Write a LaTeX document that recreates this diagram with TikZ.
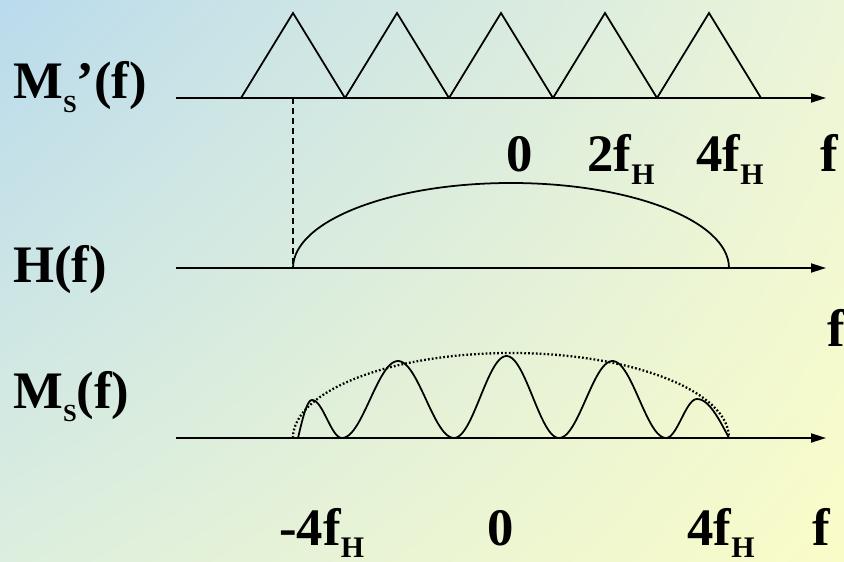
\documentclass[tikz,border=0pt]{standalone}
\usepackage{fontspec}
\setmainfont{Liberation Serif}
\usetikzlibrary{arrows.meta,shadings}
\definecolor{bgblue}{RGB}{186,219,237}
\definecolor{bggreen}{RGB}{236,245,216}
\definecolor{bgmint}{RGB}{220,238,222}
\definecolor{bgyellow}{RGB}{250,252,200}
\newcommand{\subS}{\raisebox{-7.5pt}{\fontsize{14}{14}\selectfont S}}
\newcommand{\subH}{\raisebox{-7pt}{\fontsize{17}{17}\selectfont H}}

\begin{document}
\begin{tikzpicture}[x=0.02cm, y=0.02cm,
    lbl/.style={font=\fontsize{30}{36}\selectfont\bfseries, inner sep=0pt, anchor=base west},
    axis/.style={line width=1pt, -{Triangle[length=0.3cm, width=0.18cm]}},
    curve/.style={line width=1pt}
]
\useasboundingbox (0,0) rectangle (844,561);
\shade[upper left=bgblue, upper right=bggreen, lower left=bgmint, lower right=bgyellow] (0,0) rectangle (844,561);

% sampled spectrum
\coordinate (s0) at (176,463); \coordinate (s1) at (826,463);
\draw[axis] (s0) -- (s1);
\foreach \k in {0,...,4}
    \draw[curve] (241+104*\k,463) -- ++(52,85) -- ++(52,-85);
\node[lbl] (msp) at (13,462) {M\subS'(f)};
\node[lbl] (top0) at (506,389) {0};
\node[lbl] (top2) at (587,389) {2f\subH};
\node[lbl] (top4) at (696,389) {4f\subH};
\node[lbl] (topf) at (820,389) {f};

% filter
\coordinate (h0) at (176,293); \coordinate (h1) at (826,293);
\draw[axis] (h0) -- (h1);
\draw[line width=0.9pt, dash pattern=on 3.4pt off 2.3pt] (293,463) -- (293,293);
\draw[curve] (293,293) arc[start angle=180, end angle=0, x radius=218, y radius=85];
\node[lbl] (hf) at (13,278) {H(f)};
\node[lbl] (midf) at (827,214) {f};

% output spectrum
\coordinate (m0) at (176,123); \coordinate (m1) at (826,123);
\draw[axis] (m0) -- (m1);
\draw[line width=1.3pt, dash pattern=on 1pt off 1.2pt] (293,123) arc[start angle=180, end angle=0, x radius=218, y radius=85];
\draw[curve] plot[domain=298:312, samples=15] (\x, {123+38*sin((\x-298)/14*90)})
  -- plot[domain=312:342, samples=20] (\x, {123+38*pow(cos((\x-312)/30*90),2)})
  -- plot[domain=342:454, samples=50] (\x, {123+77*pow(sin((\x-342)/112*180),2)})
  -- plot[domain=454:559, samples=50] (\x, {123+82*pow(sin((\x-454)/105*180),2)})
  -- plot[domain=559:666, samples=50] (\x, {123+77*pow(sin((\x-559)/107*180),2)})
  -- plot[domain=666:697, samples=20] (\x, {123+39*pow(sin((\x-666)/31*90),2)})
  -- plot[domain=697:729, samples=15] (\x, {123+39*cos((\x-697)/32*90)});
\node[lbl] (ms) at (13,153) {M\subS(f)};
\node[lbl] (bot4m) at (279,16) {-4f\subH};
\node[lbl] (bot0) at (487,16) {0};
\node[lbl] (bot4) at (687,16) {4f\subH};
\node[lbl] (botf) at (812,16) {f};
\end{tikzpicture}
\end{document}
